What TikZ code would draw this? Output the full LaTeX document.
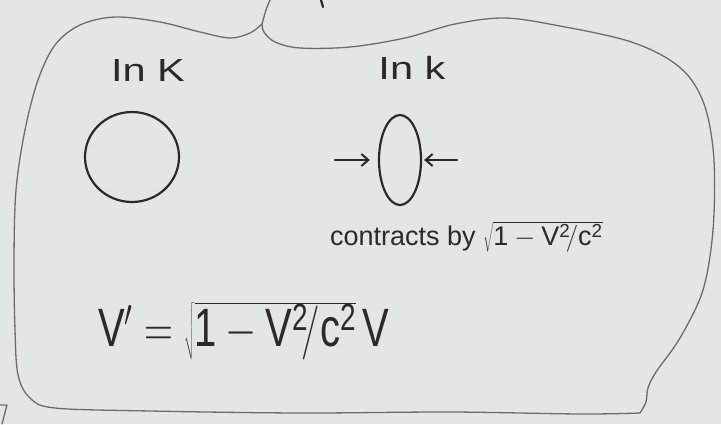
\RequirePackage{fix-cm}
\documentclass[tikz,border=0pt]{standalone}
\usepackage{fontspec}
\setmainfont{Liberation Sans}
\usetikzlibrary{arrows.meta,shapes.geometric}
\definecolor{paper}{HTML}{E3E7E3}
\definecolor{ink}{HTML}{2A2A2A}
\definecolor{pencil}{HTML}{6C6C6C}
\tikzset{
  outline/.style={draw=pencil, line width=1.3pt, line join=round, line cap=round},
  inkline/.style={draw=ink, line width=2.2pt, line cap=round},
  arr/.style={inkline, -{Straight Barb[length=7pt,width=12pt,line width=2pt]}},
  label/.style={text=ink, inner sep=0pt},
}
\newcommand{\uV}{\mathrm{V}}
\newcommand{\uc}{\mathrm{c}}
\newcommand{\uone}{\mathrm{1}}
\newcommand{\utwo}{\mathrm{2}}
\begin{document}
\begin{tikzpicture}[x=1pt,y=-1pt]
\fill[paper] (0,0) rectangle (721,424);
\useasboundingbox (0,0) rectangle (721,424);

% hand-drawn outline
\draw[outline] plot[smooth, tension=0.55] coordinates {
 (262,24) (250,33) (230,38) (200,32) (160,22) (115,17) (80,25) (55,45)
 (38,80) (25,130) (16,190) (14,260) (15,330) (18,375) (30,398) (55,408)
 (150,411) (300,413) (450,412) (580,414) (640,413)};
\draw[outline] plot[smooth, tension=0.55] coordinates {
 (640,413) (646,402) (648,388) (656,372) (680,338) (703,290) (713,230)
 (714,160) (706,110) (690,78) (665,57) (625,40) (560,26) (505,18) (455,24)
 (405,38) (350,47) (300,48) (275,42) (264,32) (262,24)};
\draw[outline] plot[smooth] coordinates {(262,24) (266,10) (270,0)};
% cut-off marks
\draw[inkline] (321,0) -- (323,7);
\draw[outline] (0,405) -- (7,405) -- (2,424);

% labels
\node[label, font=\fontsize{32}{36}\selectfont] (inK) at (148,70) {\scalebox{1.3}[1]{In K}};
\node[label, font=\fontsize{32}{36}\selectfont] (ink) at (412,68) {\scalebox{1.3}[1]{In k}};

% circle and ellipse
\node[ellipse, inkline, minimum width=94pt, minimum height=90pt, inner sep=0pt] (circ) at (132,157) {};
\node[ellipse, inkline, minimum width=42pt, minimum height=90pt, inner sep=0pt] (ell) at (400,160) {};
\coordinate (la) at (335,160);
\coordinate (ra) at (457,160);
\draw[arr, shorten >=8pt] (la) -- (ell.west);
\draw[arr, shorten >=2pt] (ra) -- (ell.east);

\node[label, anchor=base west, font=\fontsize{27}{31}\selectfont] (contr) at (330,245)
  {contracts by $\sqrt{\uone-\uV^{\utwo}\!/\uc^{\utwo}}$};

\node[label, anchor=base west, font=\fontsize{40}{44}\selectfont] (formula) at (98,346)
  {\scalebox{1}[1.35]{$\uV' = \sqrt{\uone-\uV^{\utwo}\!/\uc^{\utwo}}\,\uV$}};
\end{tikzpicture}
\end{document}
